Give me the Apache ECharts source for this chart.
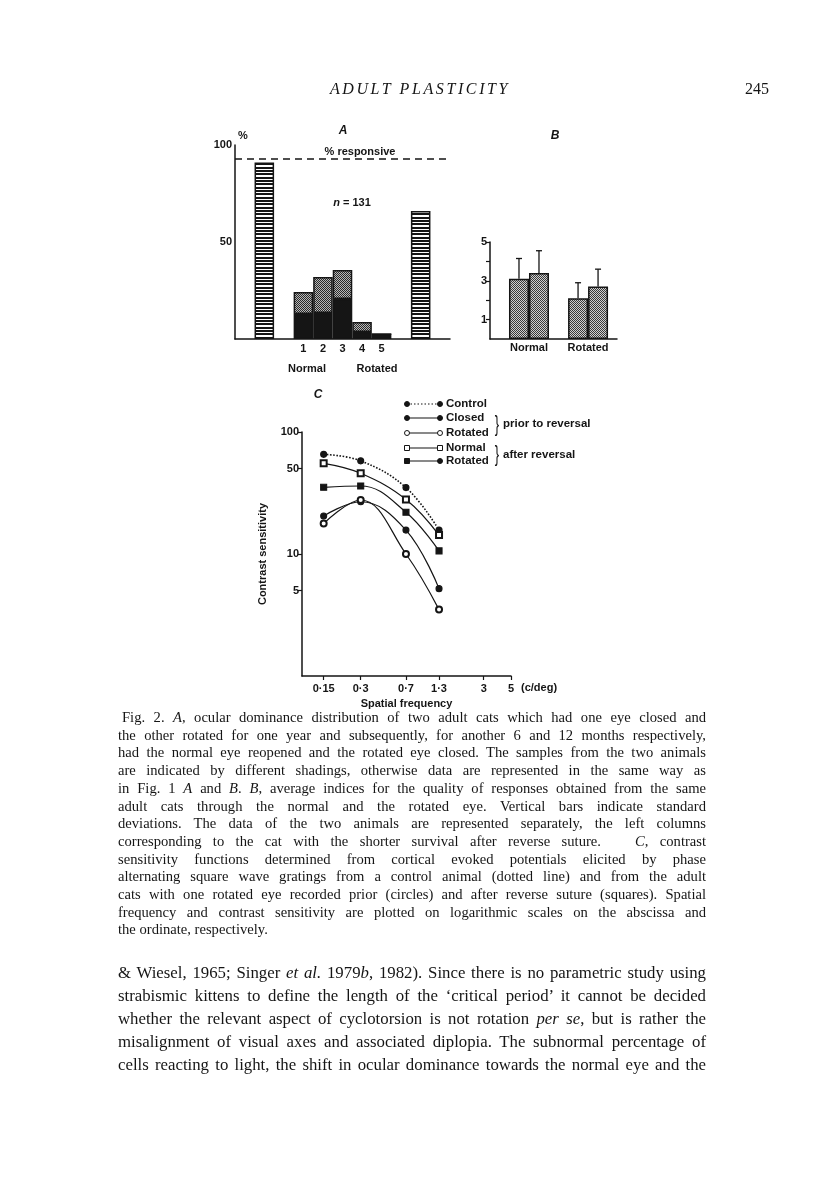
<!DOCTYPE html>
<html>
<head>
<meta charset="utf-8">
<script src="https://cdn.jsdelivr.net/npm/echarts@6/dist/echarts.min.js"></script>
<style>
html, body { margin: 0; padding: 0; background: #fff; }
#page { position: absolute; left: 0; top: 0; width: 816px; height: 1183px; }
.txt { position: absolute; font-family: 'Liberation Serif', 'DejaVu Serif', serif; color: #151515; white-space: nowrap; }
.txt div { text-align: justify; text-align-last: justify; }
.txt div.last { text-align-last: left; }
.head { top: 80px; font-size: 16px; }
.cap { left: 118px; top: 709px; width: 588px; font-size: 14.6px; line-height: 17.7px; }
.body { left: 118px; top: 961px; width: 588px; font-size: 16.8px; line-height: 23px; }
</style>
</head>
<body>
<div id="page"></div>

<div class="txt head" style="left:300px;width:240px;text-align:center;font-style:italic;letter-spacing:2.6px;">ADULT PLASTICITY</div>
<div class="txt head" style="left:745px;">245</div>

<div class="txt cap">
  <div style="padding-left:4px">Fig. 2. <i>A</i>, ocular dominance distribution of two adult cats which had one eye closed and</div>
  <div>the other rotated for one year and subsequently, for another 6 and 12 months respectively,</div>
  <div>had the normal eye reopened and the rotated eye closed. The samples from the two animals</div>
  <div>are indicated by different shadings, otherwise data are represented in the same way as</div>
  <div>in Fig. 1 <i>A</i> and <i>B</i>. <i>B</i>, average indices for the quality of responses obtained from the same</div>
  <div>adult cats through the normal and the rotated eye. Vertical bars indicate standard</div>
  <div>deviations. The data of the two animals are represented separately, the left columns</div>
  <div>corresponding to the cat with the shorter survival after reverse suture. &nbsp; <i>C</i>, contrast</div>
  <div>sensitivity functions determined from cortical evoked potentials elicited by phase</div>
  <div>alternating square wave gratings from a control animal (dotted line) and from the adult</div>
  <div>cats with one rotated eye recorded prior (circles) and after reverse suture (squares). Spatial</div>
  <div>frequency and contrast sensitivity are plotted on logarithmic scales on the abscissa and</div>
  <div class="last">the ordinate, respectively.</div>
</div>

<div class="txt body">
  <div>&amp; Wiesel, 1965; Singer <i>et al.</i> 1979<i>b</i>, 1982). Since there is no parametric study using</div>
  <div>strabismic kittens to define the length of the ‘critical period’ it cannot be decided</div>
  <div>whether the relevant aspect of cyclotorsion is not rotation <i>per se</i>, but is rather the</div>
  <div>misalignment of visual axes and associated diplopia. The subnormal percentage of</div>
  <div>cells reacting to light, the shift in ocular dominance towards the normal eye and the</div>
</div>

<script>
// ---- A: ocular dominance (%)
const odClasses = ['1', '2', '3', '4', '5'];
const odCatShort = [12.9, 13.4, 20.6, 3.6, 2.6];   // black part
const odCatLong = [11.3, 18.6, 15.0, 5.2, 0];      // stippled part on top
const responsive = [91, 66];                       // normal, rotated
const responsiveLevel = 93;

// ---- B: quality index
const qualityGroups = ['Normal', 'Rotated'];
const qualityShort = [3.1, 2.1];
const qualityShortSd = [1.05, 0.8];
const qualityLong = [3.4, 2.7];
const qualityLongSd = [1.15, 0.9];
const qualityTicks = [1, 2, 3, 4, 5];

// ---- C: contrast sensitivity
const freqs = [0.15, 0.3, 0.7, 1.3];
const control = [65.6, 58, 35, 15.7];
const closedPrior = [20.5, 26.8, 15.7, 5.2];
const rotatedPrior = [17.8, 27.7, 10, 3.5];
const normalAfter = [55.4, 45.9, 28, 14.3];
const rotatedAfter = [35.2, 36.1, 22, 10.6];
const freqTicks = [0.15, 0.3, 0.7, 1.3, 3, 5];
const sensTicks = [5, 10, 50, 100];

const ink = '#151515';
const sans = "'Liberation Sans', Arial, sans-serif";

// hatch + stipple textures
function makePattern(w, h, draw) {
  const c = document.createElement('canvas');
  c.width = w; c.height = h;
  const g = c.getContext('2d');
  draw(g);
  return { image: c, repeat: 'repeat' };
}
const stripes = makePattern(4, 10, g => {
  g.fillStyle = '#fff'; g.fillRect(0, 0, 4, 10);
  g.fillStyle = ink;
  g.fillRect(0, 0, 4, 2); g.fillRect(0, 3, 4, 2); g.fillRect(0, 7, 4, 2);
});
const stipple = (dark, light) => makePattern(2, 2, g => {
  g.fillStyle = light; g.fillRect(0, 0, 2, 2);
  g.fillStyle = dark; g.fillRect(0, 0, 1, 1); g.fillRect(1, 1, 1, 1);
});
const stippleA = stipple('#2a2a2a', '#b8b8b8');
const stippleB = stipple('#3a3a3a', '#d0d0d0');

// slots: [_, normal %, _, 1..5, _, rotated %, _]
const slots = ['', '', ''].concat(odClasses, ['', '', '']);
const respData = slots.map((s, i) => i === 1 ? responsive[0] : i === 9 ? responsive[1] : null);
const odShortData = slots.map((s, i) => i >= 3 && i < 8 ? odCatShort[i - 3] : null);
const odLongData = slots.map((s, i) => i >= 3 && i < 8 ? odCatLong[i - 3] : null);

const chart = echarts.init(document.getElementById('page'));

const axisFont = { color: ink, fontFamily: sans, fontWeight: 'bold', fontSize: 11 };
const blackLine = { lineStyle: { color: ink, width: 1.5 } };

function errorBars(shift) {
  return function (params, api) {
    const base = api.coord([api.value(0), api.value(1)]);
    const top = api.coord([api.value(0), api.value(1) + api.value(2)]);
    const x = base[0] + shift;
    return {
      type: 'group',
      children: [
        { type: 'line', shape: { x1: x, y1: base[1], x2: x, y2: top[1] }, style: { stroke: ink, lineWidth: 1.3 } },
        { type: 'line', shape: { x1: x - 3, y1: top[1], x2: x + 3, y2: top[1] }, style: { stroke: ink, lineWidth: 1.3 } }
      ]
    };
  };
}

function curve(name, values, symbol, dotted) {
  return {
    name: name,
    type: 'line',
    xAxisIndex: 2, yAxisIndex: 2,
    data: freqs.map((f, i) => [f, values[i]]),
    smooth: 0.4,
    symbol: symbol,
    symbolSize: 6,
    itemStyle: { color: ink, borderColor: ink, borderWidth: 1.1 },
    lineStyle: { color: ink, width: dotted ? 1.6 : 1.2, type: dotted ? 'dotted' : 'solid' },
    z: 3
  };
}

// legend of C (drawn by hand, symbols at both line ends)
const legendRows = [
  { label: 'Control', y: 404, dash: [1.5, 2], l: 'circle', r: 'circle', lf: true, rf: true },
  { label: 'Closed', y: 418, dash: null, l: 'circle', r: 'circle', lf: true, rf: true },
  { label: 'Rotated', y: 433, dash: null, l: 'circle', r: 'circle', lf: false, rf: false },
  { label: 'Normal', y: 448, dash: null, l: 'rect', r: 'rect', lf: false, rf: false },
  { label: 'Rotated', y: 461, dash: null, l: 'rect', r: 'circle', lf: true, rf: true }
];
const legendGraphics = [];
legendRows.forEach(row => {
  legendGraphics.push({ type: 'line', shape: { x1: 407, y1: row.y, x2: 440, y2: row.y },
    style: { stroke: ink, lineWidth: 1.2, lineDash: row.dash } });
  [[407, row.l, row.lf], [440, row.r, row.rf]].forEach(([x, kind, filled]) => {
    const style = { fill: filled ? ink : '#fff', stroke: ink, lineWidth: 1 };
    if (kind === 'circle') legendGraphics.push({ type: 'circle', shape: { cx: x, cy: row.y, r: 2.5 }, style, z: 5 });
    else legendGraphics.push({ type: 'rect', shape: { x: x - 2.5, y: row.y - 2.5, width: 5, height: 5 }, style, z: 5 });
  });
  legendGraphics.push({ type: 'text', x: 446, y: row.y, style: { text: row.label, font: "bold 11.5px 'Liberation Sans', Arial", fill: ink, verticalAlign: 'middle' } });
});

function label(text, x, y, extra) {
  return { type: 'text', x: x, y: y, style: Object.assign({ text: text, font: "bold 11px 'Liberation Sans', Arial", fill: ink, align: 'center', verticalAlign: 'middle' }, extra || {}) };
}

function brace(x, y) {
  return { type: 'text', x: x, y: y, scaleX: 0.6,
    style: { text: '}', font: "22px 'Liberation Sans', Arial", fill: ink, align: 'center', verticalAlign: 'middle' } };
}

const option = {
  animation: false,
  backgroundColor: '#fff',
  grid: [
    { left: 235, width: 215, top: 145, height: 194, outerBoundsMode: 'none' },
    { left: 490, width: 127, top: 242, height: 97, outerBoundsMode: 'none' },
    { left: 302, width: 209, top: 432, height: 244, outerBoundsMode: 'none' }
  ],
  xAxis: [
    {
      gridIndex: 0, type: 'category', data: slots,
      axisLine: blackLine, axisTick: { show: false },
      axisLabel: Object.assign({ margin: 4, interval: 0 }, axisFont),
      splitLine: { show: false }
    },
    {
      gridIndex: 1, type: 'value', min: 0.34, max: 2.49,
      axisLine: blackLine, axisTick: { show: false },
      axisLabel: Object.assign({ margin: 3, customValues: [1, 2], formatter: v => qualityGroups[Math.round(v) - 1] || '' }, axisFont),
      splitLine: { show: false }
    },
    {
      gridIndex: 2, type: 'log', logBase: 10, min: 0.1, max: 5,
      name: 'Spatial frequency', nameLocation: 'middle', nameGap: 22,
      nameTextStyle: axisFont,
      axisLine: blackLine,
      axisTick: { show: true, length: 4, customValues: freqTicks, lineStyle: { color: ink, width: 1.2 } },
      axisLabel: Object.assign({ margin: 7, customValues: freqTicks, formatter: v => String(v).replace('.', '·') }, axisFont),
      minorTick: { show: false },
      splitLine: { show: false }
    }
  ],
  yAxis: [
    {
      gridIndex: 0, type: 'value', min: 0, max: 100, interval: 50,
      axisLine: { show: true, lineStyle: { color: ink, width: 1.5 } },
      axisTick: { show: false },
      axisLabel: Object.assign({ margin: 3, formatter: v => v === 0 ? '' : v }, axisFont),
      splitLine: { show: false }
    },
    {
      gridIndex: 1, type: 'value', min: 0, max: 5, interval: 1,
      axisLine: { show: true, lineStyle: { color: ink, width: 1.5 } },
      axisTick: { show: true, length: 4, customValues: qualityTicks, lineStyle: { color: ink, width: 1.2 } },
      axisLabel: Object.assign({ margin: 3, formatter: v => qualityTicks.indexOf(v) >= 0 && v % 2 === 1 ? v : '' }, axisFont),
      splitLine: { show: false }
    },
    {
      gridIndex: 2, type: 'log', logBase: 10, min: 1, max: 100,
      name: 'Contrast sensitivity', nameLocation: 'middle', nameGap: 34, nameRotate: 90,
      nameTextStyle: axisFont,
      axisLine: { show: true, lineStyle: { color: ink, width: 1.5 } },
      axisTick: { show: true, length: 4, customValues: sensTicks, lineStyle: { color: ink, width: 1.2 } },
      axisLabel: Object.assign({ margin: 3, customValues: sensTicks }, axisFont),
      minorTick: { show: false },
      splitLine: { show: false }
    }
  ],
  series: [
    {
      name: '% responsive', type: 'bar', xAxisIndex: 0, yAxisIndex: 0, stack: 'resp',
      data: respData, barGap: '-100%', barCategoryGap: '0%',
      itemStyle: { color: stripes, borderColor: ink, borderWidth: 1.5 },
      markLine: {
        silent: true, symbol: 'none', label: { show: false },
        lineStyle: { color: ink, width: 1.5, type: [7, 5] },
        data: [{ yAxis: responsiveLevel }]
      }
    },
    {
      name: 'cat 1', type: 'bar', xAxisIndex: 0, yAxisIndex: 0, stack: 'od',
      data: odShortData, barGap: '-100%', barCategoryGap: '0%',
      itemStyle: { color: ink, borderColor: ink, borderWidth: 1.5 }
    },
    {
      name: 'cat 2', type: 'bar', xAxisIndex: 0, yAxisIndex: 0, stack: 'od',
      data: odLongData, barGap: '-100%', barCategoryGap: '0%',
      itemStyle: { color: stippleA, borderColor: ink, borderWidth: 1.5 }
    },
    {
      name: 'short', type: 'bar', xAxisIndex: 1, yAxisIndex: 1,
      data: qualityGroups.map((g, i) => [i + 1, qualityShort[i]]),
      barWidth: 20, barGap: '0%',
      itemStyle: { color: stippleB, borderColor: ink, borderWidth: 1.5 }
    },
    {
      name: 'long', type: 'bar', xAxisIndex: 1, yAxisIndex: 1,
      data: qualityGroups.map((g, i) => [i + 1, qualityLong[i]]),
      barWidth: 20, barGap: '0%',
      itemStyle: { color: stippleB, borderColor: ink, borderWidth: 1.5 }
    },
    {
      name: 'short sd', type: 'custom', xAxisIndex: 1, yAxisIndex: 1,
      encode: { x: 0, y: 1 },
      data: qualityGroups.map((g, i) => [i + 1, qualityShort[i], qualityShortSd[i]]),
      renderItem: errorBars(-10), z: 4
    },
    {
      name: 'long sd', type: 'custom', xAxisIndex: 1, yAxisIndex: 1,
      encode: { x: 0, y: 1 },
      data: qualityGroups.map((g, i) => [i + 1, qualityLong[i], qualityLongSd[i]]),
      renderItem: errorBars(10), z: 4
    },
    curve('Control', control, 'circle', true),
    curve('Closed', closedPrior, 'circle', false),
    curve('Rotated (prior)', rotatedPrior, 'emptyCircle', false),
    curve('Normal (after)', normalAfter, 'emptyRect', false),
    curve('Rotated (after)', rotatedAfter, 'rect', false)
  ],
  graphic: [
    label('%', 243, 136),
    label('A', 343, 131, { font: "italic bold 12px 'Liberation Sans', Arial" }),
    label('B', 555, 136, { font: "italic bold 12px 'Liberation Sans', Arial" }),
    label('C', 318, 395, { font: "italic bold 12px 'Liberation Sans', Arial" }),
    label('% responsive', 360, 152),
    {
      type: 'text', x: 352, y: 203,
      style: {
        text: '{i|n} = 131', align: 'center', verticalAlign: 'middle',
        font: "bold 11px 'Liberation Sans', Arial", fill: ink,
        rich: { i: { font: "italic bold 11px 'Liberation Sans', Arial", fill: ink } }
      }
    },
    label('Normal', 307, 369),
    label('Rotated', 377, 369),
    label('(c/deg)', 521, 688, { align: 'left' }),
    brace(497, 425),
    brace(497, 455),
    label('prior to reversal', 503, 424, { align: 'left', font: "bold 11.5px 'Liberation Sans', Arial" }),
    label('after reversal', 503, 455, { align: 'left', font: "bold 11.5px 'Liberation Sans', Arial" })
  ].concat(legendGraphics)
};

chart.setOption(option);
</script>
</body>
</html>
